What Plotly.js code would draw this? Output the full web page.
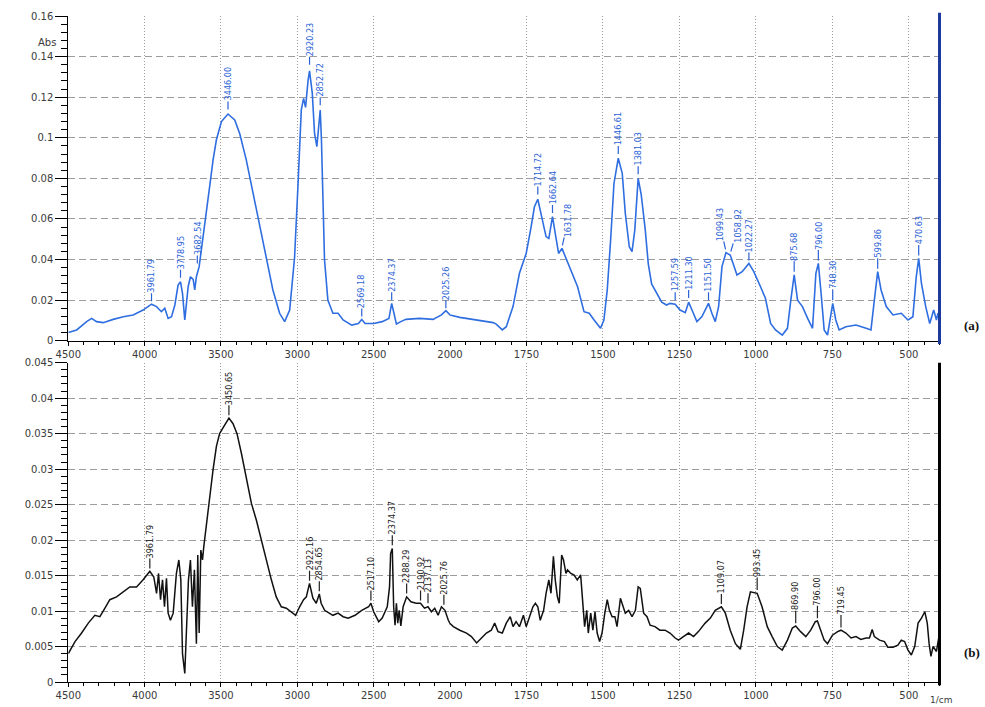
<!DOCTYPE html>
<html><head><meta charset="utf-8">
<script src="https://cdn.plot.ly/plotly-3.0.1.min.js"></script>
<style>html,body{margin:0;padding:0;background:#fff}#chart{width:985px;height:707px}</style>
</head><body><div id="chart"></div>
<script>
// ---- Spectrum (a): wavenumber (1/cm) and absorbance ----
const waveA = [4500,4445,4380,4347,4315,4271,4206,4140,4075,4010,3955,3922,3890,3868,3846,3824,3802,3781,3765,3752,3737,3715,3700,3682,3672,3661,3643,3628,3617,3595,3574,3552,3530,3497,3454,3410,3377,3334,3290,3247,3203,3160,3116,3083,3050,3018,2996,2974,2959,2946,2930,2920,2902,2887,2872,2859,2850,2842,2833,2822,2800,2767,2733,2700,2644,2600,2578,2556,2500,2444,2400,2382,2367,2351,2322,2289,2200,2111,2056,2027,2000,1968,1913,1859,1849,1829,1816,1794,1773,1751,1735,1724,1713,1702,1686,1677,1670,1665,1656,1645,1634,1610,1583,1562,1545,1529,1508,1497,1486,1475,1464,1450,1437,1427,1414,1405,1396,1385,1375,1362,1352,1341,1324,1308,1292,1281,1264,1248,1231,1220,1209,1193,1177,1166,1155,1144,1133,1122,1111,1098,1084,1062,1045,1023,1007,985,969,952,936,914,897,886,875,864,848,831,815,804,796,787,777,766,758,749,739,728,706,673,640,624,613,602,591,574,552,525,503,487,476,468,459,445,432,419,410,405,400];
const absA = [0.004,0.0053,0.0094,0.011,0.0094,0.0089,0.0105,0.0118,0.0127,0.0151,0.018,0.0168,0.0143,0.016,0.011,0.0118,0.0176,0.0274,0.029,0.0233,0.0102,0.0266,0.0315,0.0302,0.025,0.0315,0.0365,0.0455,0.053,0.0644,0.076,0.089,0.099,0.108,0.1117,0.1088,0.102,0.089,0.0726,0.056,0.0398,0.025,0.0135,0.0094,0.0151,0.041,0.076,0.1137,0.1194,0.115,0.128,0.133,0.122,0.102,0.0956,0.109,0.1137,0.099,0.07,0.04,0.02,0.0135,0.0135,0.0102,0.0077,0.0085,0.0105,0.0085,0.0085,0.0094,0.011,0.0184,0.0135,0.0082,0.0094,0.0105,0.011,0.0105,0.0127,0.0148,0.0127,0.0115,0.0102,0.0089,0.0082,0.0053,0.0069,0.0168,0.0332,0.043,0.056,0.066,0.0697,0.0628,0.0513,0.0504,0.056,0.0611,0.0529,0.043,0.0455,0.0365,0.0266,0.0143,0.0135,0.0102,0.0061,0.0102,0.025,0.0496,0.0776,0.0899,0.0825,0.0628,0.0463,0.0439,0.0545,0.08,0.072,0.055,0.038,0.028,0.023,0.019,0.0176,0.0184,0.018,0.0151,0.0138,0.019,0.0151,0.0094,0.0118,0.0151,0.0184,0.0135,0.0094,0.0168,0.0365,0.0434,0.0422,0.0324,0.034,0.0381,0.034,0.0266,0.0209,0.0085,0.0053,0.0028,0.0061,0.02,0.0324,0.02,0.0168,0.011,0.0061,0.0332,0.0381,0.0233,0.0053,0.0028,0.0102,0.0184,0.0102,0.0053,0.0069,0.0077,0.0061,0.0053,0.02,0.034,0.025,0.0168,0.0127,0.0135,0.0102,0.0118,0.0315,0.0406,0.0283,0.0168,0.0085,0.0151,0.0102,0.0135,0.012];

// ---- Spectrum (b) ----
const waveB = [4500,4456,4413,4369,4326,4293,4260,4228,4184,4140,4097,4053,4010,3966,3940,3922,3909,3896,3883,3870,3857,3846,3831,3813,3792,3776,3763,3752,3737,3726,3713,3700,3687,3674,3661,3652,3643,3632,3621,3613,3595,3574,3552,3530,3509,3476,3448,3421,3395,3366,3334,3301,3268,3236,3203,3170,3138,3105,3072,3039,3011,2985,2959,2941,2920,2898,2876,2856,2844,2821,2789,2767,2733,2700,2667,2622,2578,2533,2518,2500,2467,2444,2411,2396,2389,2378,2369,2360,2351,2342,2333,2322,2307,2284,2256,2222,2193,2167,2144,2122,2100,2078,2056,2033,2011,1989,1968,1946,1930,1913,1897,1881,1865,1854,1843,1829,1816,1803,1794,1784,1773,1760,1751,1740,1729,1721,1713,1705,1694,1686,1677,1670,1662,1656,1649,1643,1635,1629,1621,1616,1605,1595,1584,1573,1567,1560,1553,1548,1540,1533,1526,1519,1511,1503,1494,1486,1479,1470,1461,1454,1443,1435,1427,1416,1405,1394,1385,1378,1367,1356,1346,1330,1314,1297,1281,1264,1253,1237,1220,1204,1188,1166,1149,1133,1113,1100,1084,1067,1051,1040,1029,1018,1007,996,980,963,947,930,914,897,881,870,854,837,821,806,799,788,777,766,750,733,722,706,689,673,657,640,629,620,613,596,580,569,552,536,525,514,503,492,481,470,459,448,440,434,428,421,410,401];
const absB = [0.004,0.0057,0.0069,0.0083,0.0094,0.0092,0.0104,0.0116,0.012,0.0127,0.0134,0.0134,0.0144,0.0156,0.0148,0.0125,0.0153,0.0116,0.0144,0.0106,0.0146,0.0097,0.0087,0.0097,0.0153,0.0172,0.0144,0.004,0.0012,0.0073,0.0144,0.0172,0.0106,0.0158,0.0054,0.0179,0.0069,0.0186,0.0172,0.019,0.0224,0.0261,0.0299,0.0332,0.035,0.0362,0.0372,0.0364,0.035,0.0322,0.0289,0.0252,0.0228,0.02,0.0172,0.0144,0.012,0.0106,0.0104,0.0099,0.0094,0.0106,0.0116,0.012,0.0139,0.0118,0.0111,0.0124,0.0111,0.0101,0.0097,0.0094,0.0097,0.0092,0.009,0.0094,0.0101,0.0106,0.0111,0.0099,0.0085,0.009,0.0106,0.0134,0.0181,0.0188,0.0106,0.008,0.0111,0.0083,0.0101,0.0079,0.0106,0.012,0.0113,0.0111,0.0111,0.0104,0.0106,0.0099,0.0104,0.0094,0.0106,0.0101,0.0087,0.0078,0.0073,0.0069,0.0064,0.0055,0.0062,0.0069,0.0073,0.0083,0.0071,0.0069,0.0083,0.0092,0.0078,0.0085,0.0078,0.0094,0.0078,0.0092,0.0106,0.0111,0.0106,0.0087,0.0101,0.0125,0.0144,0.0125,0.0177,0.0144,0.012,0.0111,0.0179,0.0172,0.0153,0.0158,0.0153,0.0151,0.0144,0.0151,0.012,0.0078,0.0101,0.0069,0.0097,0.0073,0.0099,0.0069,0.0057,0.0069,0.0097,0.0116,0.0101,0.0092,0.0092,0.0078,0.0118,0.0106,0.0097,0.0101,0.0092,0.0101,0.0134,0.0132,0.0097,0.0092,0.008,0.0078,0.0073,0.0073,0.0069,0.0062,0.0059,0.0064,0.0069,0.0064,0.0071,0.0083,0.009,0.0101,0.0106,0.0097,0.0073,0.0054,0.0046,0.0073,0.0106,0.0127,0.0126,0.0125,0.0106,0.0078,0.0064,0.005,0.0045,0.0059,0.0076,0.0079,0.0071,0.0064,0.0073,0.0085,0.0086,0.0073,0.0059,0.0054,0.0066,0.0071,0.0073,0.0069,0.0062,0.0064,0.006,0.0062,0.0062,0.0074,0.0064,0.0059,0.0057,0.0049,0.0049,0.0052,0.0059,0.0057,0.0045,0.0038,0.005,0.0083,0.009,0.0099,0.0083,0.0054,0.0036,0.005,0.0043,0.0066];

// ---- Peak labels ----
const peakWaveA = [3955,3765,3655,3454,2920,2850,2578,2382,2027,1713,1665,1634,1450,1385,1264,1220,1155,1098,1084,1023,875,796,749,602,468];
const peakAbsA  = [0.0185,0.030,0.037,0.113,0.135,0.115,0.011,0.019,0.015,0.071,0.062,0.046,0.091,0.081,0.019,0.020,0.019,0.044,0.043,0.0385,0.033,0.0385,0.019,0.0345,0.041];
const peakTextA = ["3961.79","3778.95","3682.54","3446.00","2920.23","2852.72","2569.18","2374.37","2025.26","1714.72","1662.64","1631.78","1446.61","1381.03","1257.59","1211.30","1151.50","1099.43","1058.92","1022.27","875.68","796.00","748.30","599.86","470.63"];
const peakDxA   = [0,0,0,0,0,0,0,0,0,0,0,6,0,0,0,0,0,-6,8,0,0,0,0,0,0];

const peakWaveB = [3966,3448,2920,2856,2518,2378,2284,2193,2144,2040,1113,996,870,799,722];
const peakAbsB  = [0.0157,0.0373,0.014,0.0125,0.0112,0.019,0.0122,0.0112,0.0108,0.0106,0.0107,0.0127,0.008,0.0087,0.0074];
const peakTextB = ["3961.79","3450.65","2922.16","2854.65","2517.10","2374.37","2288.29","2190.92","2137.13","2025.76","1109.07","993.45","869.90","796.00","719.45"];

const xTicksHi = [4500,4000,3500,3000,2500,2000];
const xTicksLo = [1750,1500,1250,1000,750,500];
const SPLIT = 2000;

// split a spectrum into the part on the compressed high-wavenumber axis and the low one
function segment(w, a, high) {
  const xs = [], ys = [];
  for (let i = 0; i < w.length; i++) {
    const inside = high ? w[i] >= SPLIT : w[i] <= SPLIT;
    const nb = high ? (i > 0 && w[i-1] >= SPLIT) : (i < w.length-1 && w[i+1] <= SPLIT);
    if (inside || nb) { xs.push(w[i]); ys.push(a[i]); }
  }
  return {x: xs, y: ys};
}

const blue = '#2f6ee0', black = '#111111';
const sAH = segment(waveA, absA, true), sAL = segment(waveA, absA, false);
const sBH = segment(waveB, absB, true), sBL = segment(waveB, absB, false);
const traces = [
  {x: sAH.x, y: sAH.y, xaxis: 'x',  yaxis: 'y',  mode: 'lines', line: {color: blue, width: 1.6}, hoverinfo: 'skip'},
  {x: sAL.x, y: sAL.y, xaxis: 'x2', yaxis: 'y',  mode: 'lines', line: {color: blue, width: 1.6}, hoverinfo: 'skip'},
  {x: sBH.x, y: sBH.y, xaxis: 'x3', yaxis: 'y2', mode: 'lines', line: {color: black, width: 1.5}, hoverinfo: 'skip'},
  {x: sBL.x, y: sBL.y, xaxis: 'x4', yaxis: 'y2', mode: 'lines', line: {color: black, width: 1.5}, hoverinfo: 'skip'}
];

const W = 985, H = 707;
const xDomL = [68.3/W, 450/W], xDomR = [450/W, 939.5/W];
const yDomA = [1-340.7/H, 1-16/H], yDomB = [1-682/H, 1-362.7/H];
const tickFont = {family: 'DejaVu Sans, Verdana, sans-serif', size: 10, color: '#3a3a3a'};
const gridCol = '#9c9c9c';

function xAxis(domain, anchor, range, vals, minorD) {
  return {domain, anchor, range, autorange: false, tickmode: 'array', tickvals: vals, ticktext: vals.map(String),
    showline: true, linecolor: '#000', linewidth: 1, ticks: 'outside', ticklen: 4, tickcolor: '#000',
    showgrid: true, gridcolor: gridCol, gridwidth: 1, griddash: '1px,2px', zeroline: false, tickfont: tickFont,
    minor: {tickmode: 'linear', tick0: 0, dtick: minorD, ticks: 'outside', ticklen: 3, tickcolor: '#000', showgrid: false},
    fixedrange: true};
}
function yAxis(domain, anchor, range, dtick, minorD) {
  return {domain, anchor, range, autorange: false, tick0: 0, dtick,
    showline: true, linecolor: '#000', linewidth: 1, ticks: 'outside', ticklen: 12, tickcolor: '#000',
    showgrid: true, gridcolor: gridCol, gridwidth: 1, griddash: '7px,4px', zeroline: false, tickfont: tickFont,
    minor: {tick0: 0, dtick: minorD, ticks: 'outside', ticklen: 6, tickcolor: '#000', showgrid: false},
    fixedrange: true};
}

const labelFont = 'Liberation Sans Narrow, DejaVu Sans Condensed, Arial Narrow, sans-serif';
const annotations = [];
function addPeaks(waves, vals, texts, dxs, color, xHi, xLo, yref, ay) {
  for (let i = 0; i < waves.length; i++) {
    annotations.push({x: waves[i], y: vals[i], xref: waves[i] >= SPLIT ? xHi : xLo, yref,
      text: texts[i], textangle: -90, showarrow: true, arrowhead: 0, arrowwidth: 1.2, arrowcolor: color,
      ax: dxs ? dxs[i] : 0, ay, standoff: 2, borderpad: 0,
      font: {family: labelFont, size: 9, color}});
  }
}
addPeaks(peakWaveA, peakAbsA, peakTextA, peakDxA, '#2a62d6', 'x', 'x2', 'y', -27);
addPeaks(peakWaveB, peakAbsB, peakTextB, null, '#222', 'x3', 'x4', 'y2', -29);

annotations.push(
  {xref: 'paper', yref: 'paper', x: 36/W, y: 1-35/H, text: 'Abs', showarrow: false, font: {family: 'DejaVu Sans, sans-serif', size: 10, color: '#3a3a3a'}},
  {xref: 'paper', yref: 'paper', x: 953/W, y: 1-700/H, yanchor: 'middle', text: '1/cm', showarrow: false, borderpad: 0, font: {family: 'DejaVu Sans, sans-serif', size: 9, color: '#3a3a3a'}},
  {xref: 'paper', yref: 'paper', x: 962/W, y: 1-325/H, xanchor: 'left', text: '<b>(a)</b>', showarrow: false, font: {family: 'Liberation Serif, serif', size: 13, color: '#111'}},
  {xref: 'paper', yref: 'paper', x: 962/W, y: 1-662/H, xanchor: 'left', text: '<b>(b)</b>', showarrow: false, font: {family: 'Liberation Serif, serif', size: 13, color: '#111'}}
);

const shapes = [
  {type: 'line', xref: 'x2 domain', yref: 'y domain', x0: 1, x1: 1, y0: -0.01, y1: 1.01, line: {color: '#1e3a9a', width: 3}},
  {type: 'line', xref: 'x4 domain', yref: 'y2 domain', x0: 1, x1: 1, y0: -0.01, y1: 1.0, line: {color: '#000', width: 3}}
];

const layout = {
  width: W, height: H, margin: {l: 0, r: 0, t: 0, b: 0},
  paper_bgcolor: '#fff', plot_bgcolor: '#fff', showlegend: false,
  xaxis:  xAxis(xDomL, 'y',  [4500, 2000], xTicksHi, 100),
  xaxis2: xAxis(xDomR, 'y',  [2000, 400],  xTicksLo, 50),
  xaxis3: xAxis(xDomL, 'y2', [4500, 2000], xTicksHi, 100),
  xaxis4: xAxis(xDomR, 'y2', [2000, 400],  xTicksLo, 50),
  yaxis:  yAxis(yDomA, 'x',  [0, 0.16], 0.02, 0.004),
  yaxis2: yAxis(yDomB, 'x3', [0, 0.045], 0.005, 0.001),
  annotations, shapes
};
Plotly.newPlot('chart', traces, layout, {displayModeBar: false, staticPlot: true});
</script></body></html>
